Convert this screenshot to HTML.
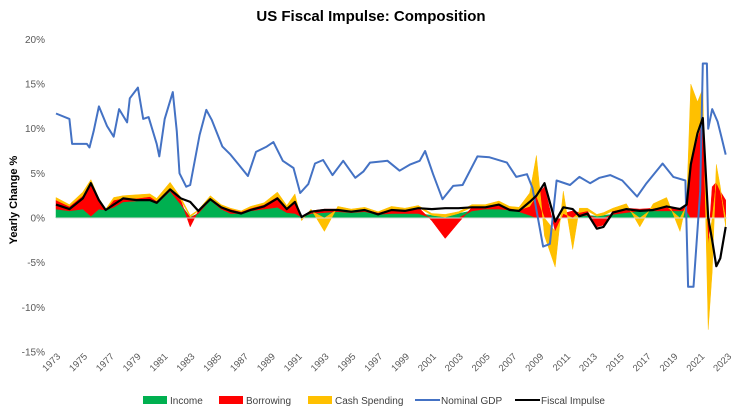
<!DOCTYPE html>
<html><head><meta charset="utf-8"><style>
body{margin:0;background:#fff;}
svg text{font-family:"Liberation Sans",sans-serif;}
</style></head><body>
<svg id="chart" width="742" height="413" viewBox="0 0 742 413" xmlns="http://www.w3.org/2000/svg">
<rect width="742" height="413" fill="#fff"/>
<text x="371" y="21" text-anchor="middle" font-size="15" font-weight="bold" fill="#000" style="font-family:'Liberation Sans Narrow','Liberation Sans',sans-serif">US Fiscal Impulse: Composition</text>
<text transform="translate(17,200) rotate(-90)" text-anchor="middle" font-size="11" font-weight="bold" fill="#000">Yearly Change %</text>
<g id="yticks"></g>
<g id="xticks"></g>
<g id="areas"></g>
<line x1="56" x2="727" y1="218" y2="218" stroke="#d9d9d9" stroke-width="1"/>
<g id="lines"></g>
<g id="legend" font-size="10" fill="#404040">
  <g><rect x="143" y="396" width="24" height="8" fill="#00b050"/><text x="170" y="404">Income</text></g>
  <g><rect x="219" y="396" width="24" height="8" fill="#ff0000"/><text x="246" y="404">Borrowing</text></g>
  <g><rect x="308" y="396" width="24" height="8" fill="#ffc000"/><text x="335" y="404">Cash Spending</text></g>
  <g><line x1="415" x2="440" y1="400" y2="400" stroke="#4472c4" stroke-width="2"/><text x="441" y="404">Nominal GDP</text></g>
  <g><line x1="515" x2="540" y1="400" y2="400" stroke="#000" stroke-width="2"/><text x="541" y="404">Fiscal Impulse</text></g>
</g>
</svg>
<script>
const yTicks=[20,15,10,5,0,-5,-10,-15];
const xTickYears=[1973,1975,1977,1979,1981,1983,1985,1987,1989,1991,1993,1995,1997,1999,2001,2003,2005,2007,2009,2011,2013,2015,2017,2019,2021,2023];
const times=[1973,1974,1975,1975.6,1976.2,1976.7,1977.3,1978,1979,1980,1980.5,1981.5,1982.3,1983,1983.6,1984.5,1985.3,1986,1986.8,1987.5,1988.5,1989.5,1990.2,1990.8,1991.3,1992,1993,1994,1995,1996,1997,1998,1999,2000,2001,2002,2003,2004,2005,2006,2006.8,2007.5,2008.3,2008.8,2009.4,2010.2,2010.8,2011.5,2012,2012.6,2013.3,2013.8,2014.5,2015.5,2016.5,2017.5,2018.5,2019.5,2020.0,2020.3,2020.8,2021.2,2021.6,2021.9,2022.2,2022.5,2022.9];
const income=[1.0,0.8,1.0,0.2,1.0,0.9,1.2,1.8,1.9,2.0,1.6,3.0,1.5,0.1,0.5,2.0,1.0,0.5,0.5,0.8,1.0,1.2,0.6,0.5,0.1,0.5,0.6,0.7,0.6,0.7,0.4,0.5,0.5,0.5,0.3,0.1,0.5,0.8,1.0,1.0,0.9,0.7,0.3,0,0,0,0,0,0.2,0.3,0.2,0.3,0.4,0.6,0.8,0.8,0.8,0.8,0.8,0,0,0,0,0,0,0,0];
const borrowing=[1.0,0.5,1.5,3.8,1.0,0,0.8,0.4,0.3,0.4,0.3,0.2,0.5,-1,0.3,0.2,0.3,0.5,0.2,0.3,0.5,1.2,0.6,1.2,0.1,0.3,0.4,0.3,0.2,0.3,0.2,0.5,0.4,0.7,-0.3,-2.3,-0.5,0.4,0.3,0.6,0.2,0.2,1.0,2.5,3.5,-1.5,0.5,0.8,0.4,0.5,-1,-0.8,0.4,0.5,0.2,0.3,0.5,0.3,0.6,6,9,11,-3,3.5,4,3,2];
const cash=[0.3,0.2,0.4,0.3,0.2,0.1,0.3,0.3,0.4,0.3,0.3,0.8,0.3,0.2,0.1,0.3,0.2,0.1,0.1,0.2,0.2,0.5,0.2,1.0,-0.3,0.2,-1.5,0.3,0.2,0.2,0.1,0.3,0.2,0.2,0.2,0.3,0.2,0.3,0.2,0.3,0.2,0.3,1.5,4.5,-2,-4,2.5,-3.5,0.5,0.3,0.2,0.3,0.3,0.5,-1,0.5,1,-1.5,0.5,9,4,3.5,-9.5,-6,2,0.5,-1];
const impulse=[1.5,1.0,2.2,3.9,2.0,0.9,1.5,2.2,2.0,2.0,1.7,3.2,2.2,1.8,0.8,2.1,1.2,0.8,0.5,0.9,1.3,2.2,1.0,1.8,0.1,0.7,0.9,0.9,0.7,0.9,0.4,0.9,0.8,1.1,1.0,1.1,1.1,1.2,1.2,1.5,0.9,0.8,1.8,2.5,3.9,-0.4,1.2,1.0,0.2,0.5,-1.2,-1.0,0.6,1.0,0.8,0.9,1.3,1.0,1.5,6.0,9.5,11.2,0.0,-2.5,-5.4,-4.5,-1.0];
const gdpTimes=[1973,1974,1974.2,1975.3,1975.5,1975.8,1976.2,1976.8,1977.3,1977.7,1978.3,1978.5,1979.1,1979.5,1979.9,1980.5,1980.7,1981.1,1981.7,1982.0,1982.2,1982.7,1983,1983.7,1984.2,1984.6,1985.4,1986.0,1986.6,1987.3,1987.9,1988.7,1989.2,1989.9,1990.7,1991.2,1991.8,1992.3,1992.9,1993.6,1994.4,1995.3,1995.9,1996.4,1997.7,1998.6,1999.4,2000.1,2000.5,2001.1,2001.8,2002.6,2003.3,2004.4,2005.3,2006.6,2007.3,2008.1,2008.5,2009.3,2009.8,2010.3,2011.3,2012.0,2012.8,2013.5,2014.3,2015.2,2016.3,2017.0,2018.2,2019.0,2019.9,2020.1,2020.5,2021.0,2021.2,2021.5,2021.6,2021.9,2022.3,2022.6,2022.9];
const gdp=[11.7,11.1,8.3,8.3,7.9,9.7,12.5,10.3,9.1,12.2,10.7,13.4,14.6,11.1,11.3,8.3,6.9,11.1,14.1,9.7,5.0,3.5,3.7,9.3,12.1,11.0,8.0,7.1,6.0,4.7,7.4,8.0,8.5,6.4,5.6,2.8,3.8,6.1,6.5,4.8,6.4,4.5,5.2,6.2,6.4,5.3,6.0,6.4,7.5,4.9,2.1,3.6,3.7,6.9,6.8,6.2,4.6,4.9,3.4,-3.2,-2.9,4.2,3.7,4.6,3.9,4.5,4.8,4.2,2.4,3.9,6.1,4.6,4.2,-7.7,-7.7,3.0,17.3,17.3,10.0,12.2,10.8,9.0,7.1];

const NS='http://www.w3.org/2000/svg';
const X0=56,X1=727,Y0=218,PY=8.93;
function xs(t){return X0+(t-1973)*(X1-X0)/50;}
function ys(v){return Y0-v*PY;}
function mk(tag,attrs,parent){const e=document.createElementNS(NS,tag);for(const k in attrs)e.setAttribute(k,attrs[k]);parent.appendChild(e);return e;}

const yg=document.getElementById('yticks');
yTicks.forEach(v=>{
  const t=mk('text',{x:45,y:ys(v)+3.5,'text-anchor':'end','font-size':'10',fill:'#595959'},yg);
  
  
  t.textContent=v+'%';
});
const xg=document.getElementById('xticks');
xTickYears.forEach(yr=>{
  const x=xs(yr);
  const t=mk('text',{transform:`translate(${x+5},${357}) rotate(-45)`,'text-anchor':'end','font-size':'9.5',fill:'#595959'},xg);
  
  
  t.textContent=yr;
});

// stacked areas: positive parts stack up, negative parts stack down
const series=[[income,'#00b050','area-income'],[borrowing,'#ff0000','area-borrowing'],[cash,'#ffc000','area-cash-spending']];
const pos=times.map(()=>0),neg=times.map(()=>0);
const ag=document.getElementById('areas');
series.forEach(([vals,col,name])=>{
  const lo=[],hi=[];
  times.forEach((t,i)=>{
    const v=vals[i];
    let a,b;
    if(v>=0){a=pos[i];b=pos[i]+v;pos[i]=b;}
    else{a=neg[i];b=neg[i]+v;neg[i]=b;}
    lo.push([xs(t),ys(a)]);hi.push([xs(t),ys(b)]);
  });
  const pts=hi.concat(lo.reverse()).map(p=>p[0].toFixed(1)+','+p[1].toFixed(1)).join(' ');
  const p=mk('polygon',{points:pts,fill:col,stroke:col,'stroke-width':'0.5'},ag);
  
  
});

const lg=document.getElementById('lines');
const gl=mk('polyline',{points:gdpTimes.map((t,i)=>xs(t).toFixed(1)+','+ys(gdp[i]).toFixed(1)).join(' '),fill:'none',stroke:'#4472c4','stroke-width':'2','stroke-linejoin':'round'},lg);


const il=mk('polyline',{points:times.map((t,i)=>xs(t).toFixed(1)+','+ys(impulse[i]).toFixed(1)).join(' '),fill:'none',stroke:'#000','stroke-width':'2.2','stroke-linejoin':'round'},lg);


</script>
</body></html>
